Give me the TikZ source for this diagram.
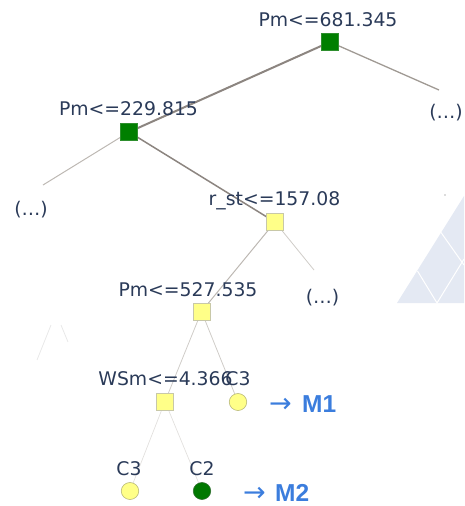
\documentclass[tikz,border=0pt]{standalone}
\usepackage{fontspec}
\setmainfont{DejaVu Sans}
\newfontfamily\markfont{Liberation Sans}
\newfontfamily\arrowfont{DejaVu Sans}
\begin{document}
\begin{tikzpicture}[x=1pt,y=-1pt,
  lbl/.style={anchor=base,inner sep=0pt,text=labelc,font=\fontsize{18.8}{22}\selectfont},
  mlbl/.style={anchor=base west,inner sep=0pt,text=markc,font=\markfont\bfseries\fontsize{24.5}{28}\selectfont},
  albl/.style={anchor=base west,inner sep=0pt,text=markc,font=\arrowfont\fontsize{27}{30}\selectfont},
  sqg/.style={draw=sqgb,fill=sqgf,line width=0.6pt,minimum size=17pt,inner sep=0pt},
  sqy/.style={draw=sqyb,fill=sqyf,line width=0.6pt,minimum size=17pt,inner sep=0pt},
  cy/.style={ellipse,draw=cyb,fill=cyf,line width=0.6pt,minimum width=17.5pt,minimum height=17pt,inner sep=0pt},
  cg/.style={ellipse,draw=cgb,fill=cgf,line width=0.6pt,minimum width=17.5pt,minimum height=17pt,inner sep=0pt},
  e1/.style={draw=edgeA,line width=2pt},
  e2/.style={draw=edgeB,line width=1.3pt},
  e3/.style={draw=edgeC,line width=1pt},
  e4/.style={draw=edgeD,line width=0.8pt},
  e5/.style={draw=edgeE,line width=0.7pt}]
\usetikzlibrary{shapes.geometric}
\definecolor{labelc}{HTML}{2A3A58}
\definecolor{markc}{HTML}{3B7DDD}
\definecolor{sqgf}{HTML}{007F00}
\definecolor{sqgb}{HTML}{2E8F2E}
\definecolor{sqyf}{HTML}{FFFF88}
\definecolor{sqyb}{HTML}{C8C8A8}
\definecolor{cyf}{HTML}{FFFF88}
\definecolor{cyb}{HTML}{B8B878}
\definecolor{cgf}{HTML}{007800}
\definecolor{cgb}{HTML}{2E6E2E}
\definecolor{edgeA}{HTML}{8C8580}
\definecolor{edgeB}{HTML}{A09A94}
\definecolor{edgeC}{HTML}{BDB8B3}
\definecolor{edgeD}{HTML}{CFCCC8}
\definecolor{edgeE}{HTML}{E2E0DE}
\definecolor{tri}{HTML}{E4E9F3}
\definecolor{faint}{HTML}{E8E8E8}

\useasboundingbox (0,0) rectangle (464,506);

% background triangle with white grid lines
\fill[tri] (397,303) -- (464,303) -- (464,196) -- cycle;
\draw[white,line width=1pt] (440,231) -- (464,265);
\draw[white,line width=1pt] (417.5,271) -- (437,303);
\draw[white,line width=1pt] (437,303) -- (464,259);
\fill[black!60] (445,195) circle (0.6);

% faint strokes on the left
\draw[faint,line width=0.8pt] (37,360) -- (51,325);
\draw[faint,line width=0.8pt] (61,325) -- (68,342);

% node positions
\coordinate (rootc) at (330,42);
\coordinate (n2c) at (129,132);
\coordinate (n3c) at (275,222);
\coordinate (n4c) at (201.5,311.5);
\coordinate (n5c) at (165,401.5);
\coordinate (l1c) at (238,402);
\coordinate (l2c) at (130,491);
\coordinate (l3c) at (202,491);
\coordinate (endR) at (439,90);
\coordinate (endL) at (43,185);
\coordinate (endM) at (314,270);

% connectors
\draw[e1] (rootc) -- (n2c);
\draw[e2] (rootc) -- (endR);
\draw[e3] (n2c) -- (endL);
\draw[e1,line width=1.5pt] (n2c) -- (n3c);
\draw[e3] (n3c) -- (n4c);
\draw[e4] (n3c) -- (endM);
\draw[e4] (n4c) -- (n5c);
\draw[e4] (n4c) -- (l1c);
\draw[e5] (n5c) -- (l2c);
\draw[e5] (n5c) -- (l3c);

% nodes
\node[sqg] (root) at (rootc) {};
\node[sqg] (n2) at (n2c) {};
\node[sqy] (n3) at (n3c) {};
\node[sqy] (n4) at (n4c) {};
\node[sqy] (n5) at (n5c) {};
\node[cy] (l1) at (l1c) {};
\node[cy] (l2) at (l2c) {};
\node[cg] (l3) at (l3c) {};

% split labels
\node[lbl] (t1) at (328,26) {Pm<=681.345};
\node[lbl] (t2) at (128.5,115) {Pm<=229.815};
\node[lbl] (t3) at (274.5,205) {r\_st<=157.08};
\node[lbl] (t4) at (188,296) {Pm<=527.535};
\node[lbl] (t5) at (165.5,385) {WSm<=4.366};
\node[lbl] (t6) at (238,385) {C3};
\node[lbl] (t7) at (129,475) {C3};
\node[lbl] (t8) at (202,475) {C2};

% collapsed subtrees
\node[lbl] (d1) at (446,118) {(…)};
\node[lbl] (d2) at (31,215) {(…)};
\node[lbl] (d3) at (322.5,303) {(…)};

% model markers
\node[albl] (a1) at (269,412) {→};
\node[mlbl] (m1) at (302,412) {M1};
\node[albl] (a2) at (243,501) {→};
\node[mlbl] (m2) at (275,501) {M2};
\end{tikzpicture}
\end{document}
